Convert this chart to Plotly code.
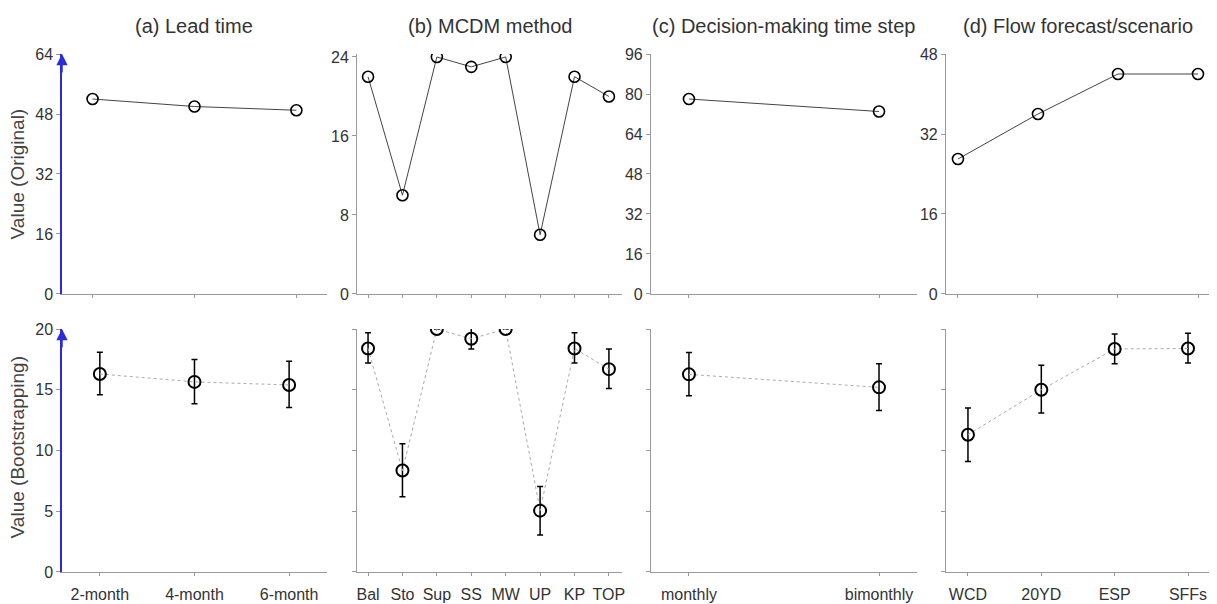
import plotly.graph_objects as go

# ---------------- data ----------------
lead_cats = ["2-month", "4-month", "6-month"]
lead_orig = [52, 50, 49]
lead_boot = [16.3, 15.65, 15.4]
lead_hi = [18.1, 17.5, 17.35]
lead_lo = [14.6, 13.85, 13.55]

mcdm_cats = ["Bal", "Sto", "Sup", "SS", "MW", "UP", "KP", "TOP"]
mcdm_orig = [22, 10, 24, 23, 24, 6, 22, 20]
mcdm_boot = [18.4, 8.35, 20.0, 19.2, 20.0, 5.05, 18.4, 16.7]
mcdm_hi = [19.7, 10.55, 20.0, 20.1, 20.0, 7.03, 19.7, 18.35]
mcdm_lo = [17.2, 6.2, 20.0, 18.35, 20.0, 3.05, 17.2, 15.1]

step_cats = ["monthly", "bimonthly"]
step_orig = [78, 73]
step_boot = [16.27, 15.2]
step_hi = [18.08, 17.15]
step_lo = [14.5, 13.3]

flow_cats = ["WCD", "20YD", "ESP", "SFFs"]
flow_orig = [27, 36, 44, 44]
flow_boot = [11.3, 15.0, 18.36, 18.4]
flow_hi = [13.5, 17.03, 19.6, 19.65]
flow_lo = [9.1, 13.08, 17.15, 17.2]

titles = ["(a) Lead time", "(b) MCDM method", "(c) Decision-making time step",
          "(d) Flow forecast/scenario"]
top_ranges = [[0, 64], [0, 24.3], [0, 96], [0, 48]]
top_dticks = [16, 8, 16, 16]
x_ranges_top = [[-0.3, 2.3], [-0.32, 7.38], [-0.2, 1.2], [-0.15, 3.15]]
x_ranges_bot = [[-0.4, 2.4], [-0.32, 7.38], [-0.2, 1.2], [-0.3, 3.3]]
x_domains = [[0, 0.2308], [0.257, 0.4878], [0.513, 0.7448], [0.770, 1.0]]

panels = [
    (lead_cats, lead_orig, lead_boot, lead_hi, lead_lo),
    (mcdm_cats, mcdm_orig, mcdm_boot, mcdm_hi, mcdm_lo),
    (step_cats, step_orig, step_boot, step_hi, step_lo),
    (flow_cats, flow_orig, flow_boot, flow_hi, flow_lo),
]

FONT = "Liberation Sans, Arial, sans-serif"
AXC = "#9a9a9a"
TXT = "#333333"
BLUE = "#2b2bdc"

fig = go.Figure()
layout = {}
top_dom = [0.5367, 1.0]
bot_dom = [0.0, 0.469]

for i, (cats, orig, boot, hi, lo) in enumerate(panels):
    t = i + 1          # top axis index
    b = i + 5          # bottom axis index
    xt = "x" if t == 1 else f"x{t}"
    yt = "y" if t == 1 else f"y{t}"
    xb, yb = f"x{b}", f"y{b}"

    fig.add_trace(go.Scatter(
        x=cats, y=orig, mode="lines+markers", xaxis=xt, yaxis=yt,
        line=dict(color="#444444", width=1),
        marker=dict(symbol="circle-open", size=11, color="black",
                    line=dict(width=1.6, color="black")),
        showlegend=False))

    up = [h - m for h, m in zip(hi, boot)]
    dn = [m - l for m, l in zip(boot, lo)]
    fig.add_trace(go.Scatter(
        x=cats, y=boot, mode="lines+markers", xaxis=xb, yaxis=yb,
        line=dict(color="#aaaaaa", width=1, dash="dot"),
        marker=dict(symbol="circle-open", size=12, color="black",
                    line=dict(width=2, color="black")),
        error_y=dict(type="data", symmetric=False, array=up, arrayminus=dn,
                     color="black", thickness=1.5, width=3),
        showlegend=False))

    common_x = dict(domain=x_domains[i], type="category",
                    showline=True, linecolor=AXC, linewidth=1,
                    ticks="outside", ticklen=3, tickcolor=AXC,
                    showgrid=False, zeroline=False, automargin=False,
                    tickfont=dict(family=FONT, size=16, color=TXT))
    lx_t = "xaxis" if t == 1 else f"xaxis{t}"
    ly_t = "yaxis" if t == 1 else f"yaxis{t}"
    layout[lx_t] = dict(common_x, anchor=yt, range=x_ranges_top[i],
                        showticklabels=False)
    layout[f"xaxis{b}"] = dict(common_x, anchor=yb, range=x_ranges_bot[i],
                               showticklabels=True, ticklabelstandoff=5)

    common_y = dict(showline=True, ticks="outside", ticklen=4,
                    tickcolor=AXC, showgrid=False, zeroline=False,
                    automargin=False,
                    tickfont=dict(family=FONT, size=16, color=TXT))
    layout[ly_t] = dict(common_y, domain=top_dom, anchor=xt, range=top_ranges[i],
                        dtick=top_dticks[i], tick0=0,
                        linecolor=(BLUE if i == 0 else AXC),
                        linewidth=(1.5 if i == 0 else 1))
    layout[f"yaxis{b}"] = dict(common_y, domain=bot_dom, anchor=xb, range=[0, 20],
                               dtick=5, tick0=0, showticklabels=(i == 0),
                               linecolor=(BLUE if i == 0 else AXC),
                               linewidth=(1.5 if i == 0 else 1))

annotations = []
for i, title in enumerate(titles):
    xc = (x_domains[i][0] + x_domains[i][1]) / 2
    annotations.append(dict(text=title, xref="paper", yref="paper", x=xc, y=1.054,
                            xanchor="center", yanchor="middle", showarrow=False,
                            font=dict(family=FONT, size=20, color=TXT)))

annotations.append(dict(text="Value (Original)", xref="paper", yref="paper",
                        x=-0.039, y=0.768, textangle=-90, showarrow=False,
                        xanchor="center", yanchor="middle",
                        font=dict(family=FONT, size=19, color="#444444")))
annotations.append(dict(text="Value (Bootstrapping)", xref="paper", yref="paper",
                        x=-0.039, y=0.241, textangle=-90, showarrow=False,
                        xanchor="center", yanchor="middle",
                        font=dict(family=FONT, size=19, color="#444444")))

# blue arrowheads on the first-column y axes
annotations.append(dict(xref="paper", yref="y", x=0, y=64, ax=0, ay=20,
                        axref="pixel", ayref="pixel", text="", showarrow=True,
                        arrowhead=2, arrowsize=1.5, arrowwidth=1.5,
                        arrowcolor=BLUE))
annotations.append(dict(xref="paper", yref="y5", x=0, y=20, ax=0, ay=20,
                        axref="pixel", ayref="pixel", text="", showarrow=True,
                        arrowhead=2, arrowsize=1.5, arrowwidth=1.5,
                        arrowcolor=BLUE))

# page body has an 8px default margin: size figure so plot area lands correctly
fig.update_layout(
    width=1209, height=596,
    margin=dict(l=54, r=7, t=46, b=32),
    paper_bgcolor="white", plot_bgcolor="white",
    font=dict(family=FONT, color=TXT),
    annotations=annotations,
    **layout)

fig.write_html("out.html")
